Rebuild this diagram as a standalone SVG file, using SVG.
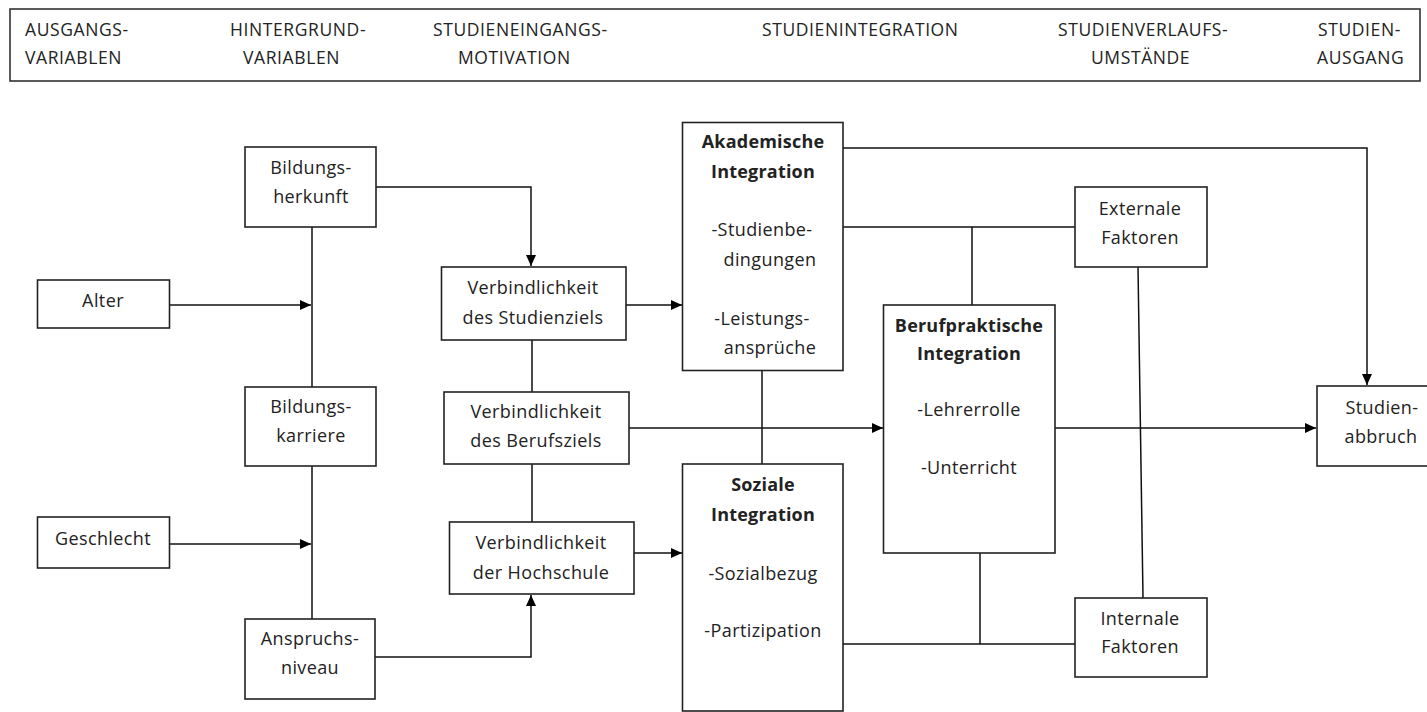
<svg xmlns="http://www.w3.org/2000/svg" width="1427" height="712" viewBox="0 0 1427 712">
<style>
.box{fill:#fff;stroke:#222;stroke-width:1.6}
.t{font-family:"Open Sans","Liberation Sans",sans-serif;font-size:18px;letter-spacing:0.4px;fill:#222;text-anchor:middle}
.b{font-weight:bold;letter-spacing:0.2px}
.h{font-family:"Open Sans","Liberation Sans",sans-serif;font-size:17.5px;letter-spacing:0.6px;fill:#222}
.ln{fill:none;stroke:#111;stroke-width:1.5}
</style>
<defs>
<marker id="ar" markerUnits="userSpaceOnUse" markerWidth="12" markerHeight="10" refX="11" refY="5" orient="auto">
<path d="M0,0 L11,5 L0,10 Z" fill="#000"/>
</marker>
</defs>
<rect width="1427" height="712" fill="#fff"/>
<g id="header">
<rect x="10" y="9" width="1410" height="72" fill="#fff" stroke="#333" stroke-width="1.6"/>
<text class="h" x="25" y="36">AUSGANGS-</text>
<text class="h" x="25" y="64">VARIABLEN</text>
<text class="h" x="230" y="36">HINTERGRUND-</text>
<text class="h" x="243" y="64">VARIABLEN</text>
<text class="h" x="433" y="36">STUDIENEINGANGS-</text>
<text class="h" x="458" y="64">MOTIVATION</text>
<text class="h" x="762" y="36">STUDIENINTEGRATION</text>
<text class="h" x="1058" y="36">STUDIENVERLAUFS-</text>
<text class="h" x="1091" y="64">UMSTÄNDE</text>
<text class="h" x="1318" y="36">STUDIEN-</text>
<text class="h" x="1317" y="64">AUSGANG</text>
</g>
<g id="connectors">
<path class="ln" d="M170,305 H311" marker-end="url(#ar)"/>
<path class="ln" d="M170,544 H311" marker-end="url(#ar)"/>
<path class="ln" d="M312,227 V387 M312,466 V619"/>
<path class="ln" d="M376,187 H531 V266" marker-end="url(#ar)"/>
<path class="ln" d="M375,657 H531 V595" marker-end="url(#ar)"/>
<path class="ln" d="M626,305 H682" marker-end="url(#ar)"/>
<path class="ln" d="M532,340 V392 M532,464 V522"/>
<path class="ln" d="M629,428 H883" marker-end="url(#ar)"/>
<path class="ln" d="M634,553 H682" marker-end="url(#ar)"/>
<path class="ln" d="M843,148 H1367 V385" marker-end="url(#ar)"/>
<path class="ln" d="M843,227 H1075 M972,227 V305"/>
<path class="ln" d="M1138,267 L1143,598"/>
<path class="ln" d="M762,370 V464"/>
<path class="ln" d="M1055,428 H1316" marker-end="url(#ar)"/>
<path class="ln" d="M843,644 H1075 M980,553 V644"/>
</g>
<g id="alter">
<rect class="box" x="37.5" y="280" width="132" height="48"/>
<text class="t" x="103" y="307">Alter</text>
</g>
<g id="geschlecht">
<rect class="box" x="37.5" y="517" width="132" height="51"/>
<text class="t" x="103" y="545">Geschlecht</text>
</g>
<g id="bildungsherkunft">
<rect class="box" x="245" y="147" width="131" height="80"/>
<text class="t" x="311" y="174">Bildungs-</text>
<text class="t" x="311" y="203">herkunft</text>
</g>
<g id="bildungskarriere">
<rect class="box" x="245" y="387" width="131" height="79"/>
<text class="t" x="311" y="413">Bildungs-</text>
<text class="t" x="311" y="442">karriere</text>
</g>
<g id="anspruchsniveau">
<rect class="box" x="245" y="619" width="130" height="80"/>
<text class="t" x="310" y="645">Anspruchs-</text>
<text class="t" x="310" y="674">niveau</text>
</g>
<g id="studienziel">
<rect class="box" x="441.5" y="267" width="184.5" height="73"/>
<text class="t" x="533" y="294">Verbindlichkeit</text>
<text class="t" x="533" y="324">des Studienziels</text>
</g>
<g id="berufsziel">
<rect class="box" x="444" y="392" width="185" height="72"/>
<text class="t" x="536" y="418">Verbindlichkeit</text>
<text class="t" x="536" y="447">des Berufsziels</text>
</g>
<g id="hochschule">
<rect class="box" x="449.5" y="522" width="184.5" height="72"/>
<text class="t" x="541" y="549">Verbindlichkeit</text>
<text class="t" x="541" y="579">der Hochschule</text>
</g>
<g id="akademische">
<rect class="box" x="682.5" y="122.5" width="160.5" height="248"/>
<text class="t b" x="763" y="148">Akademische</text>
<text class="t b" x="763" y="178">Integration</text>
<text class="t" x="762" y="236">-Studienbe-</text>
<text class="t" x="770" y="266">dingungen</text>
<text class="t" x="762" y="325">-Leistungs-</text>
<text class="t" x="770" y="354">ansprüche</text>
</g>
<g id="soziale">
<rect class="box" x="682.5" y="464" width="160.5" height="247"/>
<text class="t b" x="763" y="491">Soziale</text>
<text class="t b" x="763" y="521">Integration</text>
<text class="t" x="763" y="580">-Sozialbezug</text>
<text class="t" x="763" y="637">-Partizipation</text>
</g>
<g id="berufpraktische">
<rect class="box" x="883.5" y="305" width="171.5" height="248"/>
<text class="t b" x="969" y="332">Berufpraktische</text>
<text class="t b" x="969" y="360">Integration</text>
<text class="t" x="969" y="416">-Lehrerrolle</text>
<text class="t" x="969" y="474">-Unterricht</text>
</g>
<g id="externale">
<rect class="box" x="1075" y="187" width="132" height="80"/>
<text class="t" x="1140" y="215">Externale</text>
<text class="t" x="1140" y="244">Faktoren</text>
</g>
<g id="internale">
<rect class="box" x="1075" y="598" width="132" height="79"/>
<text class="t" x="1140" y="625">Internale</text>
<text class="t" x="1140" y="653">Faktoren</text>
</g>
<g id="studienabbruch">
<rect class="box" x="1317" y="386" width="130" height="80"/>
<text class="t" x="1382" y="414">Studien-</text>
<text class="t" x="1381" y="443">abbruch</text>
</g>
</svg>
